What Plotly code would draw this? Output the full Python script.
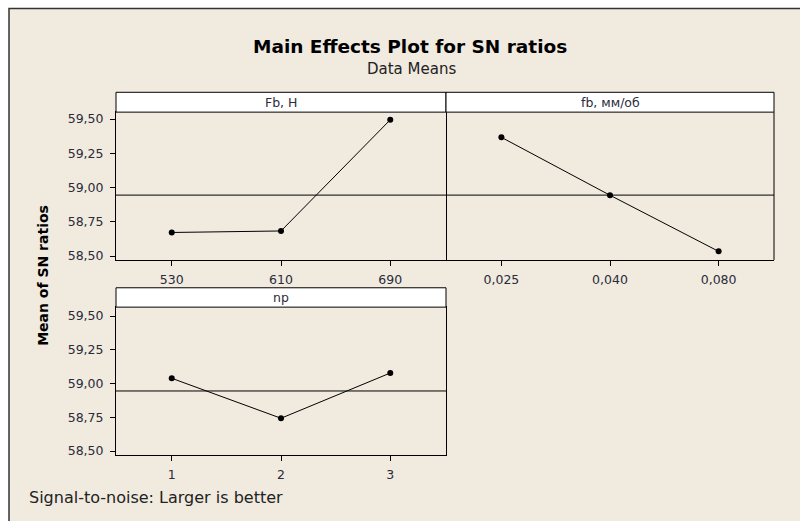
import plotly.graph_objects as go

# ---- data ----
fb_levels = ["530", "610", "690"]
fb_means = [58.672, 58.683, 59.495]
feed_levels = ["0,025", "0,040", "0,080"]
feed_means = [59.367, 58.944, 58.534]
np_levels = ["1", "2", "3"]
np_means = [59.039, 58.743, 59.078]
overall_mean = 58.945
panel_titles = ["Fb, Н", "fb, мм/об", "np"]
y_ticks = [58.50, 58.75, 59.00, 59.25, 59.50]

W, H = 800, 521
BG = "#F0EADF"
TXT = "#2b2b3a"


def px(x):
    return x / W


def py(y):
    return 1 - y / H


fig = go.Figure()

panels = [
    # (levels, means, xaxis, yaxis, x0, x1, ytop, ybot, strip_top, yrange, show y ticks)
    (fb_levels, fb_means, "x", "y", 116, 446, 112, 261, 92, [58.471, 59.551], True),
    (feed_levels, feed_means, "x2", "y2", 446, 774, 112, 261, 92, [58.471, 59.551], False),
    (np_levels, np_means, "x3", "y3", 116, 446, 308.5, 457.5, 289, [58.471, 59.566], True),
]

shapes = []
annotations = []
for i, (levels, means, xa, ya, x0, x1, yt, yb, st, yr, showy) in enumerate(panels):
    pos = list(range(1, len(levels) + 1))
    fig.add_trace(go.Scatter(
        x=pos, y=means, xaxis=xa, yaxis=ya, mode="lines+markers",
        line=dict(color="black", width=1),
        marker=dict(symbol="circle", size=6, color="black"),
        showlegend=False, hoverinfo="x+y",
    ))
    sfx = "" if i == 0 else str(i + 1)
    fig.update_layout(**{
        "xaxis" + sfx: dict(
            domain=[px(x0), px(x1)], anchor=ya, range=[0.49, 3.51],
            tickvals=pos, ticktext=levels, ticks="outside", ticklen=5,
            tickcolor="black", showgrid=False, zeroline=False,
            showline=True, linecolor="black", linewidth=1, mirror=True,
            ticklabelstandoff=3,
            tickfont=dict(family="DejaVu Sans", size=12.5, color=TXT),
            fixedrange=True,
        ),
        "yaxis" + sfx: dict(
            domain=[py(yb), py(yt)], anchor=xa, range=yr,
            tickvals=y_ticks if showy else [], tickformat=".2f",
            ticks="outside" if showy else "", ticklen=5, tickcolor="black",
            showticklabels=showy, showgrid=False, zeroline=False,
            showline=showy, linecolor="black", linewidth=1, mirror=True,
            ticklabelstandoff=4,
            tickfont=dict(family="DejaVu Sans", size=12.5, color=TXT),
            fixedrange=True,
        ),
    })
    if not showy:
        # right border only (left border shared with neighbouring panel)
        shapes.append(dict(type="line", xref="paper", yref="paper",
                           x0=px(x1), x1=px(x1), y0=py(yb), y1=py(yt),
                           line=dict(color="black", width=1)))
    # reference line at overall mean
    shapes.append(dict(type="line", xref=xa + " domain", yref=ya,
                       x0=0, x1=1, y0=overall_mean, y1=overall_mean,
                       line=dict(color="black", width=1)))
    # header strip
    shapes.append(dict(type="rect", xref="paper", yref="paper",
                       x0=px(x0), x1=px(x1), y0=py(yt), y1=py(st),
                       fillcolor="white", line=dict(color="black", width=1)))
    annotations.append(dict(text=panel_titles[i], xref="paper", yref="paper",
                            x=(px(x0) + px(x1)) / 2, y=(py(yt) + py(st)) / 2,
                            xanchor="center", yanchor="middle", showarrow=False,
                            font=dict(family="DejaVu Sans", size=12.5, color=TXT)))

# outer frame
shapes.insert(0, dict(type="rect", xref="paper", yref="paper",
                      x0=px(9), x1=px(820), y0=py(540), y1=py(7.5),
                      fillcolor=BG, line=dict(color="#333333", width=1.5),
                      layer="below"))

annotations += [
    dict(text="<b>Main Effects Plot for SN ratios</b>", xref="paper", yref="paper",
         x=px(410), y=py(46), xanchor="center", yanchor="middle", showarrow=False,
         font=dict(family="DejaVu Sans", size=18.5, color="black")),
    dict(text="Data Means", xref="paper", yref="paper",
         x=px(411), y=py(69), xanchor="center", yanchor="middle", showarrow=False,
         font=dict(family="DejaVu Sans", size=15, color="#222222")),
    dict(text="<b>Mean of SN ratios</b>", xref="paper", yref="paper",
         x=px(43), y=py(277), xanchor="center", yanchor="middle", showarrow=False,
         textangle=-90, font=dict(family="DejaVu Sans", size=14, color="black")),
    dict(text="Signal-to-noise: Larger is better", xref="paper", yref="paper",
         x=px(27), y=py(500), xanchor="left", yanchor="middle", showarrow=False,
         font=dict(family="DejaVu Sans", size=16, color="#222222")),
]

fig.update_layout(
    width=W, height=H,
    margin=dict(l=0, r=0, t=0, b=0),
    paper_bgcolor="white", plot_bgcolor="white",
    separators=", ",
    shapes=shapes, annotations=annotations,
    showlegend=False,
)

fig.write_html("out.html",
               config={"displayModeBar": False},
               post_script="document.body.style.margin='0';"
                           "document.body.style.overflow='hidden';")
